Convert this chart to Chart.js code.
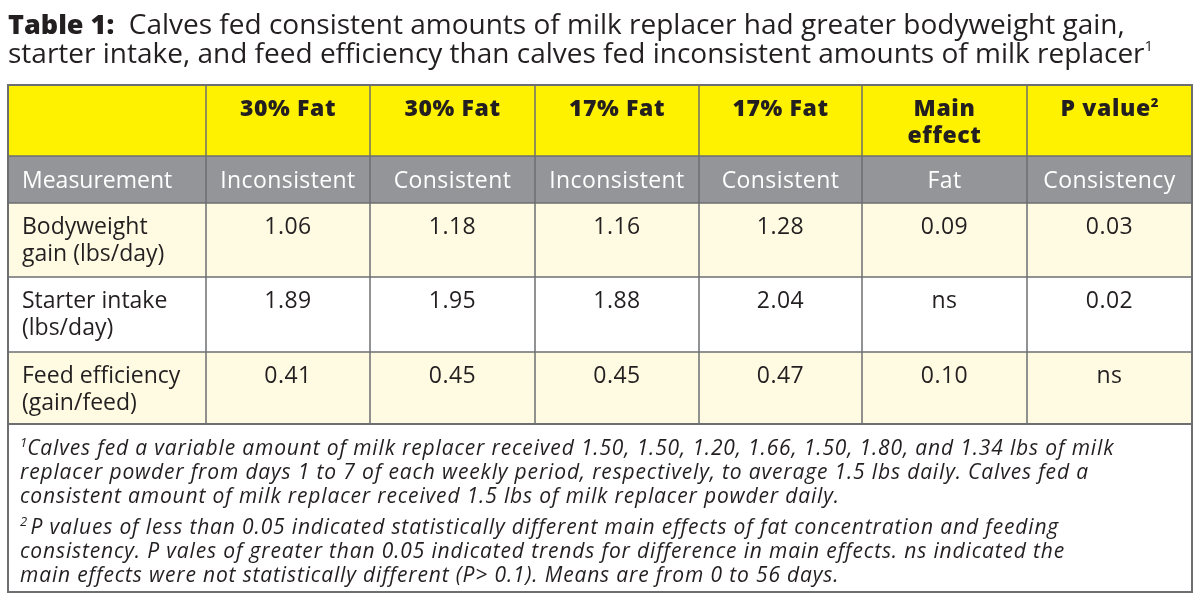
<!DOCTYPE html>
<html>
<head>
<meta charset="utf-8">
<script src="https://cdn.jsdelivr.net/npm/chart.js@4.4.1/dist/chart.umd.min.js"></script>
<style>
	html, body { margin: 0; padding: 0; background: #fff; }
	canvas { display: block; }
</style>
</head>
<body>
<canvas id="tableChart" width="1200" height="605"></canvas>
<script>
// ---- table content ----
var fatLevels = ['30% Fat', '30% Fat', '17% Fat', '17% Fat'];
var feedingGroups = ['Inconsistent', 'Consistent', 'Inconsistent', 'Consistent'];
var pValueGroups = ['Fat', 'Consistency'];
var measurements = [
	['Bodyweight', 'gain (lbs/day)'],
	['Starter intake', '(lbs/day)'],
	['Feed efficiency', '(gain/feed)']
];
var bodyweightGain = [1.06, 1.18, 1.16, 1.28];
var starterIntake = [1.89, 1.95, 1.88, 2.04];
var feedEfficiency = [0.41, 0.45, 0.45, 0.47];
var pFat = ['0.09', 'ns', '0.10'];
var pConsistency = ['0.03', '0.02', 'ns'];

var titleText = [
	'Calves fed consistent amounts of milk replacer had greater bodyweight gain,',
	'starter intake, and feed efficiency than calves fed inconsistent amounts of milk replacer'
];
var footnote1 = [
	'Calves fed a variable amount of milk replacer received 1.50, 1.50, 1.20, 1.66, 1.50, 1.80, and 1.34 lbs of milk',
	'replacer powder from days 1 to 7 of each weekly period, respectively, to average 1.5 lbs daily. Calves fed a',
	'consistent amount of milk replacer received 1.5 lbs of milk replacer powder daily.'
];
var footnote2 = [
	'P values of less than 0.05 indicated statistically different main effects of fat concentration and feeding',
	'consistency. P vales of greater than 0.05 indicated trends for difference in main effects. ns indicated the',
	'main effects were not statistically different (P> 0.1). Means are from 0 to 56 days.'
];

// ---- layout (table units, mapped through the chart scales) ----
var colEdges = [0, 198, 362, 527, 691, 854, 1019, 1184];
var rowEdges = [0, 71, 118, 192, 267, 339, 507];

var FONT = '"Open Sans", Lato, sans-serif';
var INK = '#231f20';

function runsWidth(ctx, runs) {
	var w = 0;
	for (var i = 0; i < runs.length; i++) {
		ctx.font = runs[i].f;
		ctx.letterSpacing = runs[i].ls || '0px';
		w += ctx.measureText(runs[i].t).width;
	}
	return w;
}

function drawRuns(ctx, x, y, runs, align, color) {
	var startX = x;
	if (align == 'center') startX = x - runsWidth(ctx, runs) / 2;
	ctx.textAlign = 'left';
	ctx.textBaseline = 'alphabetic';
	ctx.fillStyle = color || INK;
	for (var i = 0; i < runs.length; i++) {
		ctx.font = runs[i].f;
		ctx.letterSpacing = runs[i].ls || '0px';
		ctx.fillText(runs[i].t, startX, y + (runs[i].dy || 0));
		startX += ctx.measureText(runs[i].t).width;
	}
	ctx.letterSpacing = '0px';
}

var tablePlugin = {
	id: 'tablePlugin',
	afterDraw: function(chart) {
		var ctx = chart.ctx;
		var xs = chart.scales.x, ys = chart.scales.y;
		var cx = function(i) { return xs.getPixelForValue(colEdges[i]); };
		var ry = function(i) { return ys.getPixelForValue(rowEdges[i]); };
		var colMid = function(i) { return (cx(i) + cx(i + 1)) / 2; };
		ctx.save();

		// title
		drawRuns(ctx, 8, 34, [
			{ t: 'Table 1:', f: '800 27px ' + FONT },
			{ t: '  ' + titleText[0], f: '28px ' + FONT }
		]);
		drawRuns(ctx, 8, 63, [
			{ t: titleText[1], f: '28px ' + FONT },
			{ t: '1', f: '15px ' + FONT, dy: -12 }
		]);

		// cell backgrounds
		var left = cx(0), right = cx(7);
		ctx.fillStyle = '#fff200';
		ctx.fillRect(left, ry(0), right - left, ry(1) - ry(0));
		ctx.fillStyle = '#939598';
		ctx.fillRect(left, ry(1), right - left, ry(2) - ry(1));
		var rowFills = ['#fefbe2', '#ffffff', '#fefbe2'];
		for (var r = 0; r < 3; r++) {
			ctx.fillStyle = rowFills[r];
			ctx.fillRect(left, ry(r + 2), right - left, ry(r + 3) - ry(r + 2));
		}
		ctx.fillStyle = '#ffffff';
		ctx.fillRect(left, ry(5), right - left, ry(6) - ry(5));

		// grid lines
		ctx.strokeStyle = '#6d6e71';
		ctx.lineWidth = 1.5;
		for (var c = 1; c < 7; c++) {
			ctx.beginPath();
			ctx.moveTo(cx(c), ry(0));
			ctx.lineTo(cx(c), ry(5));
			ctx.stroke();
		}
		for (var k = 1; k < 6; k++) {
			ctx.beginPath();
			ctx.moveTo(left, ry(k));
			ctx.lineTo(right, ry(k));
			ctx.stroke();
		}
		ctx.lineWidth = 2;
		ctx.strokeRect(left, ry(0), right - left, ry(5) - ry(0));
		ctx.strokeRect(left, ry(5), right - left, ry(6) - ry(5));

		// header row
		var hb = '800 23px ' + FONT;
		for (var i = 0; i < fatLevels.length; i++) {
			drawRuns(ctx, colMid(i + 1), ry(0) + 31, [{ t: fatLevels[i], f: hb, ls: '0.6px' }], 'center');
		}
		drawRuns(ctx, colMid(5), ry(0) + 31, [{ t: 'Main', f: hb, ls: '0.6px' }], 'center');
		drawRuns(ctx, colMid(5), ry(0) + 58, [{ t: 'effect', f: hb, ls: '0.6px' }], 'center');
		drawRuns(ctx, colMid(6), ry(0) + 31, [
			{ t: 'P value', f: hb, ls: '0.6px' },
			{ t: '2', f: '800 13px ' + FONT, dy: -9 }
		], 'center');

		// grey sub-header
		var sub = '23px ' + FONT;
		var subY = (ry(1) + ry(2)) / 2 + 8;
		drawRuns(ctx, cx(0) + 14, subY, [{ t: 'Measurement', f: sub }], 'left', '#ffffff');
		for (var g = 0; g < feedingGroups.length; g++) {
			drawRuns(ctx, colMid(g + 1), subY, [{ t: feedingGroups[g], f: sub, ls: '0.4px' }], 'center', '#ffffff');
		}
		for (var p = 0; p < pValueGroups.length; p++) {
			drawRuns(ctx, colMid(p + 5), subY, [{ t: pValueGroups[p], f: sub, ls: '0.4px' }], 'center', '#ffffff');
		}

		// data rows
		var series = [bodyweightGain, starterIntake, feedEfficiency];
		for (var m = 0; m < measurements.length; m++) {
			var top = ry(m + 2);
			drawRuns(ctx, cx(0) + 14, top + 31, [{ t: measurements[m][0], f: sub }]);
			drawRuns(ctx, cx(0) + 14, top + 58, [{ t: measurements[m][1], f: sub }]);
			for (var v = 0; v < series[m].length; v++) {
				drawRuns(ctx, colMid(v + 1), top + 31, [{ t: series[m][v].toFixed(2), f: sub, ls: '0.5px' }], 'center');
			}
			drawRuns(ctx, colMid(5), top + 31, [{ t: pFat[m], f: sub, ls: '0.5px' }], 'center');
			drawRuns(ctx, colMid(6), top + 31, [{ t: pConsistency[m], f: sub, ls: '0.5px' }], 'center');
		}

		// footnotes
		var it = 'italic 21px ' + FONT;
		var fy = ry(5) + 31;
		for (var a = 0; a < footnote1.length; a++) {
			var runs = [{ t: footnote1[a], f: it, ls: '0.85px' }];
			if (a == 0) runs.unshift({ t: '1', f: 'italic 13px ' + FONT, dy: -8 });
			drawRuns(ctx, cx(0) + 12, fy + a * 24, runs);
		}
		fy += 3 * 24 + 7;
		for (var b = 0; b < footnote2.length; b++) {
			var runs2 = [{ t: footnote2[b], f: it, ls: '0.85px' }];
			if (b == 0) runs2.unshift({ t: '2 ', f: 'italic 13px ' + FONT, dy: -8 });
			drawRuns(ctx, cx(0) + 12, fy + b * 24, runs2);
		}
		ctx.restore();
	}
};

new Chart(document.getElementById('tableChart'), {
	type: 'scatter',
	data: { datasets: [{ data: [] }] },
	options: {
		responsive: false,
		animation: false,
		devicePixelRatio: 1,
		layout: { padding: { left: 8, right: 8, top: 85, bottom: 13 } },
		plugins: { legend: { display: false }, tooltip: { enabled: false } },
		scales: {
			x: { type: 'linear', min: 0, max: colEdges[colEdges.length - 1], display: false },
			y: { type: 'linear', min: 0, max: rowEdges[rowEdges.length - 1], reverse: true, display: false }
		}
	},
	plugins: [tablePlugin]
});
</script>
</body>
</html>
